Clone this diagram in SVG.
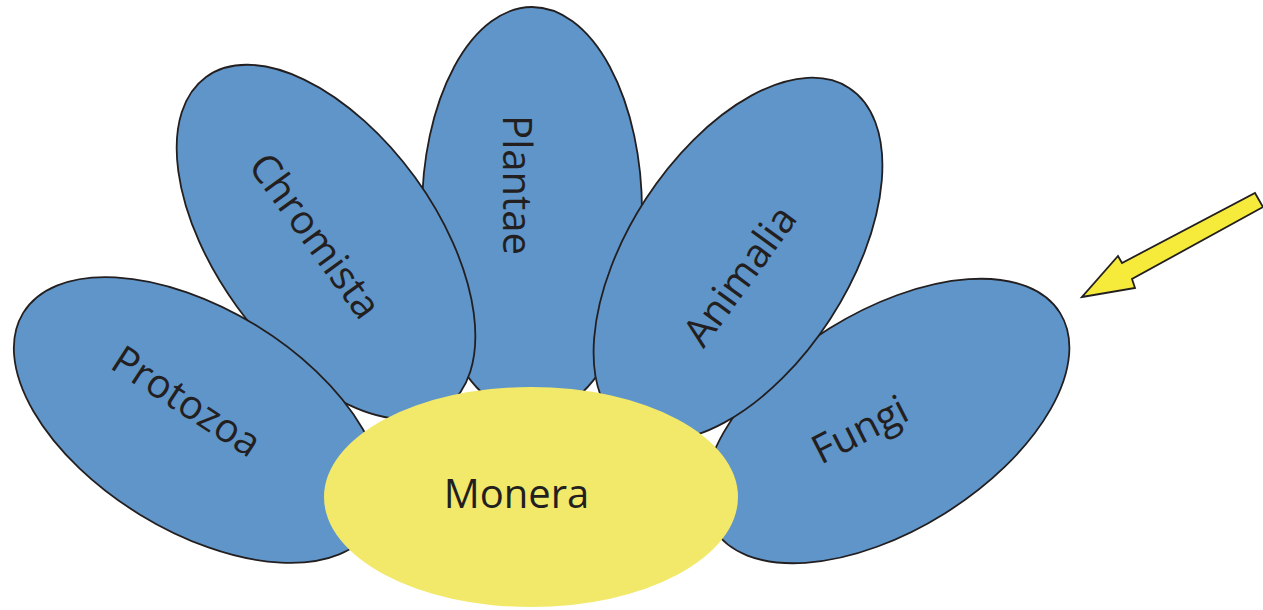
<svg xmlns="http://www.w3.org/2000/svg" width="1263" height="610" viewBox="0 0 1263 610">
<style>
.petal{fill:#5f95c8;stroke:#231f20;stroke-width:1.8}
.core{fill:#f2e96b}
.lbl{font-family:"Open Sans","Noto Sans",sans-serif;font-size:40px;fill:#231f20;text-anchor:middle}
</style>
<rect width="1263" height="610" fill="#ffffff"/>
<g id="plantae">
<ellipse class="petal" cx="532" cy="211" rx="110" ry="204"/>
<text class="lbl" transform="translate(503,185) rotate(90)">Plantae</text>
</g>
<g id="chromista">
<ellipse class="petal" cx="0" cy="0" rx="204" ry="110" transform="translate(326,242) rotate(54)"/>
<text class="lbl" transform="translate(304,244) rotate(54)">Chromista</text>
</g>
<g id="protozoa">
<ellipse class="petal" cx="0" cy="0" rx="205" ry="111" transform="translate(198,420) rotate(31.5)"/>
<text class="lbl" transform="translate(179,413) rotate(33)">Protozoa</text>
</g>
<g id="fungi">
<ellipse class="petal" cx="0" cy="0" rx="204" ry="109" transform="translate(887,421) rotate(-32)"/>
<text class="lbl" transform="translate(866,442) rotate(-27)">Fungi</text>
</g>
<g id="animalia">
<ellipse class="petal" cx="0" cy="0" rx="204" ry="110" transform="translate(738,259) rotate(-57)"/>
<text class="lbl" transform="translate(751,284) rotate(-54)">Animalia</text>
</g>
<g id="monera">
<ellipse class="core" cx="531" cy="497" rx="207" ry="110"/>
<text class="lbl" x="516.5" y="508">Monera</text>
</g>
<g id="connectors">
<polygon points="1082,297 1135,288 1132,279 1263,207 1255,193 1122,263 1118,256" fill="#f6eb3a" stroke="#231f20" stroke-width="1.8" stroke-linejoin="miter"/>
</g>
</svg>
